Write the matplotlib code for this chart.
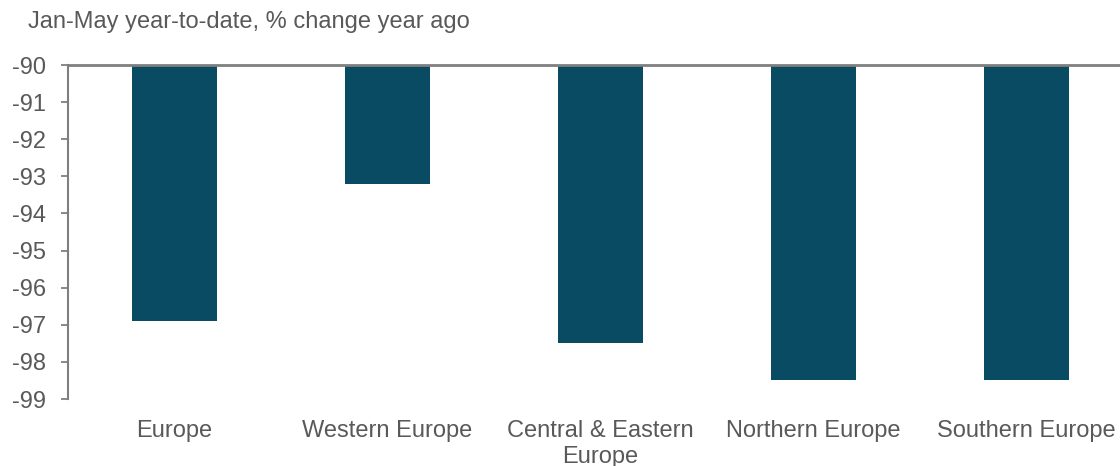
import matplotlib
matplotlib.use("Agg")
import matplotlib.pyplot as plt

categories = ["Europe", "Western Europe", "Central & Eastern\nEurope", "Northern Europe", "Southern Europe"]
values = [-96.9, -93.2, -97.5, -98.5, -98.5]
yticks = [-90, -91, -92, -93, -94, -95, -96, -97, -98, -99]
title = "Jan-May year-to-date, % change year ago"

plt.rcParams['font.family'] = ['Liberation Sans', 'DejaVu Sans']
grey = '#595959'
spine = '#7f7f7f'
barc = '#084B63'

fig = plt.figure(figsize=(11.2, 4.66), dpi=100)
ax = fig.add_axes([68/1120, 1 - 399/466, (1133 - 68)/1120, (399 - 65)/466])

base = -90
x = list(range(len(categories)))
ax.bar(x, [v - base for v in values], bottom=base, width=0.4, color=barc, zorder=2)

ax.set_xlim(-0.5, len(categories) - 0.5)
ax.set_ylim(-99, -90)
ax.set_yticks(yticks)
ax.set_yticklabels([str(t) for t in yticks])
ax.set_xticks(x)
ax.set_xticklabels(categories)

for s in ['right', 'bottom']:
    ax.spines[s].set_visible(False)
ax.spines['left'].set_color(spine)
ax.spines['left'].set_linewidth(1.5)
ax.spines['top'].set_color(spine)
ax.spines['top'].set_linewidth(2.0)
ax.spines['top'].set_zorder(3)

ax.tick_params(axis='y', direction='out', length=5, width=1.3, color=spine,
               labelsize=17, labelcolor=grey, pad=11)
ax.tick_params(axis='x', length=0, labelsize=17, labelcolor=grey, pad=15)
for lab in ax.get_xticklabels():
    lab.set_linespacing(1.22)

fig.text(28/1120, 1 - 22/466, title, fontsize=17, color=grey, va='center', ha='left')

fig.savefig('out.png', dpi=100)
